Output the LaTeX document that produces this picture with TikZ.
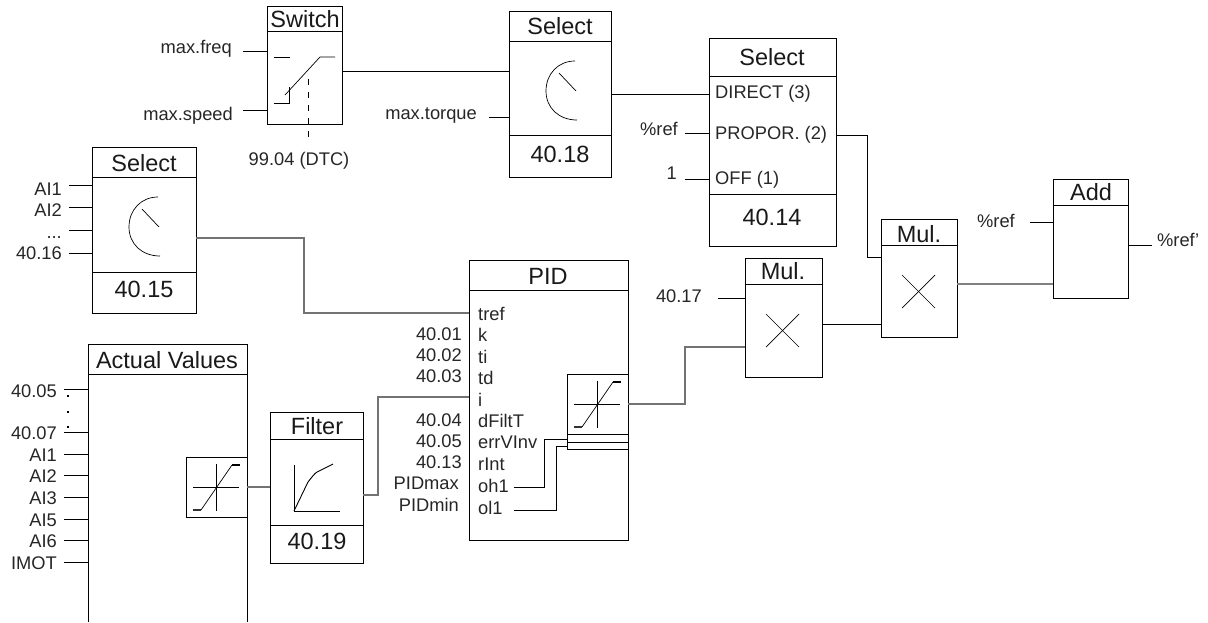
\documentclass[tikz,border=0pt]{standalone}
\usepackage{fontspec}
\setmainfont{Liberation Sans}
\tikzset{
  blockbox/.style={draw=black,line width=0.9pt,rectangle,inner sep=0pt,outer sep=0pt,anchor=north west},
  openbox/.style={rectangle,inner sep=0pt,outer sep=0pt,anchor=north west},
  wire/.style={draw=black,line width=0.9pt},
  greywire/.style={draw=black!55,line width=1.1pt},
  thickgrey/.style={draw=black!50,line width=1.6pt},
  glyph/.style={draw=black,line width=0.7pt},
  ttl/.style={inner sep=0pt,anchor=base,font=\fontsize{23.5}{23.5}\selectfont,text=black!90},
  lblr/.style={inner sep=0pt,anchor=base east,font=\fontsize{18.3}{18.3}\selectfont,text=black!85},
  lbll/.style={inner sep=0pt,anchor=base west,font=\fontsize{18.3}{18.3}\selectfont,text=black!85},
  lblc/.style={inner sep=0pt,anchor=base,font=\fontsize{18.3}{18.3}\selectfont,text=black!85},
}
\newcommand{\blk}[6][blockbox]{\node[#1,minimum width={(#5-#3)*1pt},minimum height={(#6-#4)*1pt}] (#2) at (#3,#4) {};}
\newcommand{\sepline}[2]{\draw[wire] (#1.west |- 0,#2) -- (#1.east |- 0,#2);}
\newcommand{\dialmark}[2]{\begin{scope}[shift={(#1,#2)}]
  \draw[glyph] (66,50) .. controls (49,50) and (37,63) .. (37,80) .. controls (37,97) and (50,109) .. (68,109);
  \draw[glyph] (50,62) -- (67,80);
\end{scope}}
\newcommand{\satmark}[2]{\begin{scope}[shift={(#1,#2)}]
  \draw[glyph] (-23,0) -- (23,0);
  \draw[glyph] (0,-23.5) -- (0,23.5);
  \draw[glyph] (-15,23) -- (16,-22);
  \draw[line width=1.2pt,black!80] (-23,23) -- (-15,23);
  \draw[line width=1.2pt,black] (16,-22) -- (24,-22);
\end{scope}}
\newcommand{\xmark}[4]{\draw[glyph] (#1,#2) -- (#3,#4); \draw[glyph] (#1,#4) -- (#3,#2);}
\begin{document}
\begin{tikzpicture}[x=1pt,y=-1pt]
\useasboundingbox (0,0) rectangle (1208,622);

% --- blocks
\blk{sw}{267}{6}{342}{124}
\blk{sela}{509}{11}{611}{177}
\blk{selb}{709}{38}{836}{246}
\blk{selc}{92}{147}{196}{313}
\blk{mula}{881}{219}{957}{337}
\blk{mulb}{745}{258}{822}{377}
\blk{addb}{1053}{179}{1128}{298}
\blk{pid}{469}{260}{628}{540}
\blk{filt}{270}{412}{363}{563}
\blk[openbox]{av}{88}{344}{247}{622}
\draw[wire] (av.south west) -- (av.north west) -- (av.north east) -- (av.south east);
\blk{avsat}{186}{457}{247}{517}
\blk{pidsat}{567}{374}{628}{449}

% --- separators
\sepline{sw}{31}
\sepline{sela}{41}\sepline{sela}{135}
\sepline{selb}{76}\sepline{selb}{194}
\sepline{selc}{177}\sepline{selc}{272}
\sepline{mula}{245}
\sepline{mulb}{284}
\sepline{addb}{205}
\sepline{pid}{290}
\sepline{filt}{439}\sepline{filt}{525}
\sepline{av}{374}
\sepline{pidsat}{434}\sepline{pidsat}{442}

% --- titles
\node[ttl] (tsw) at (305,27) {Switch};
\node[ttl] (tsela) at (560,34) {Select};
\node[ttl] (nsela) at (560,162) {40.18};
\node[ttl] (tselb) at (772,65) {Select};
\node[ttl] (nselb) at (772,225) {40.14};
\node[ttl] (tselc) at (144,171) {Select};
\node[ttl] (nselc) at (144,297) {40.15};
\node[ttl] (tmula) at (919,242) {Mul.};
\node[ttl] (tmulb) at (783,279) {Mul.};
\node[ttl] (tadd) at (1091,200) {Add};
\node[ttl] (tpid) at (548,284) {PID};
\node[ttl] (tav) at (167,368) {Actual Values};
\node[ttl] (tfilt) at (317,434) {Filter};
\node[ttl] (nfilt) at (317,549) {40.19};

% --- switch glyph
\draw[glyph] (274,57) -- (290,57);
\draw[glyph] (285,95) -- (320,57) -- (335,57);
\draw[glyph] (274,103) -- (289,103) -- (289,87);
\coordinate (dashtop) at (308,79);
\node[lblc] (ldtc) at (299,165) {99.04 (DTC)};
\draw[wire,dash pattern=on 6pt off 7pt] (dashtop) -- (308,141);

% --- dials and others
\dialmark{509}{11}
\dialmark{92}{147}
\xmark{902}{275}{935}{308}
\xmark{766}{314}{799}{347}
\satmark{216}{487}
\satmark{597}{404}
\draw[glyph,line width=0.9pt] (294,465) -- (294,511) -- (340,511);
\draw[glyph,line width=0.9pt] (294,511) -- (308,482) .. controls (312,477) and (314,474) .. (317,472) -- (333,464);

% --- left labels: switch
\node[lblr] (lfreq) at (232,53) {max.freq};
\coordinate (pfreq) at (243,51);
\draw[wire] (pfreq) -- (pfreq -| sw.west);
\node[lblr] (lspeed) at (233,120) {max.speed};
\coordinate (pspeed) at (243,110);
\draw[wire] (pspeed) -- (pspeed -| sw.west);
\node[lblr] (ltorque) at (477,119) {max.torque};
\coordinate (ptorque) at (489,117);
\draw[wire] (ptorque) -- (ptorque -| sela.west);

% --- select c inputs
\foreach \nm/\txt/\ly/\by in {ai/AI1/185/195,aj/AI2/207/216,al/40.16/253/259}{
  \node[lblr] (s\nm) at (62,\by) {\txt};
  \coordinate (p\nm) at (69,\ly);
  \draw[wire] (p\nm) -- (p\nm -| selc.west);
}
\node[lblr] (sak) at (62,238) {...};
\coordinate (pak) at (69,230);
\draw[wire] (pak) -- (pak -| selc.west);

% --- actual values inputs
\foreach \nm/\txt/\ly/\by in {va/40.05/389/397,vb/40.07/432/439,vc/AI1/454/461,vd/AI2/475/482,ve/AI3/497/504,vf/AI5/519/526,vg/AI6/540/547,vh/IMOT/562/569}{
  \node[lblr] (l\nm) at (57,\by) {\txt};
  \coordinate (p\nm) at (64,\ly);
  \draw[wire] (p\nm) -- (p\nm -| av.west);
}
\foreach \dy in {395,411,426}{\fill[black] (67,\dy) rectangle (69,\dy+1.6);}

% --- PID labels
\foreach \nm/\txt/\by in {ta/tref/320,tb/k/341,tc/ti/363,td/td/384,te/i/406,tf/dFiltT/427,tg/errVInv/448,th/rInt/470,ti/oh1/492,tj/ol1/514}{
  \node[lbll] (\nm) at (478,\by) {\txt};
}
\foreach \nm/\txt/\by in {ra/40.01/340,rb/40.02/361,rc/40.03/382,rd/40.04/426,re/40.05/447,rf/40.13/468}{
  \node[lblr] (\nm) at (462,\by) {\txt};
}
\node[lblr] (rg) at (459,489) {PIDmax};
\node[lblr] (rh) at (459,511) {PIDmin};

% --- select b items
\node[lbll] (ia) at (715,98) {DIRECT (3)};
\node[lbll] (ib) at (715,139) {PROPOR. (2)};
\node[lbll] (ic) at (715,184) {OFF (1)};
\node[lblr] (lpref) at (678,135) {\%ref};
\node[lblr] (lone) at (677,179) {1};
\coordinate (ppref) at (685,133);
\coordinate (pone) at (685,179);
\draw[wire] (ppref) -- (ppref -| selb.west);
\draw[wire] (pone) -- (pone -| selb.west);

% --- 40.17, add
\node[lblr] (lms) at (702,302) {40.17};
\coordinate (pms) at (718,298);
\draw[wire] (pms) -- (pms -| mulb.west);
\node[lblr] (laref) at (1015,227) {\%ref};
\coordinate (paref) at (1030,222);
\draw[wire] (paref) -- (paref -| addb.west);
\node[lbll] (lout) at (1157,246) {\%ref'};
\coordinate (pout) at (1152,245);
\draw[wire] (addb.east |- pout) -- (pout);

% --- connectors between blocks
\draw[wire] (sw.east |- 0,71) -- (sela.west |- 0,71);
\draw[wire] (sela.east |- 0,94) -- (selb.west |- 0,94);
\draw[wire] (selb.east |- 0,135) -| (867,257) -- (mula.west |- 0,257);
\draw[greywire] (selc.east |- 0,238) -| (304,313) -- (pid.west |- 0,313);
\draw[greywire] (av.east |- 0,487) -- (filt.west |- 0,487);
\draw[greywire] (filt.east |- 0,495) -| (378,397) -- (pid.west |- 0,397);
\draw[greywire] (pid.east |- 0,404) -| (685,347) -- (mulb.west |- 0,347);
\draw[wire] (mulb.east |- 0,324) -- (mula.west |- 0,324);
\draw[thickgrey] (mula.east |- 0,284) -- (addb.west |- 0,284);
\coordinate (poh) at (514,487);
\coordinate (pol) at (514,510);
\draw[wire] (poh) -| (544,439) -- (pidsat.west |- 0,439);
\draw[wire] (pol) -| (556,446) -- (pidsat.west |- 0,446);
\end{tikzpicture}
\end{document}
